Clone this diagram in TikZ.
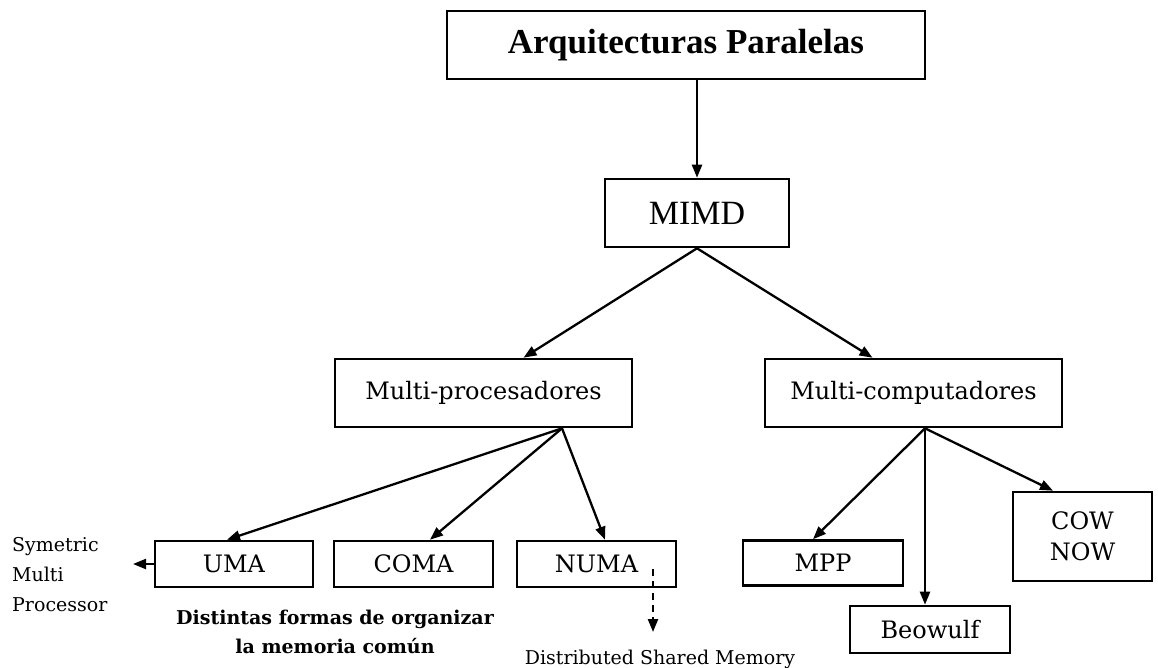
\documentclass[tikz,border=0pt]{standalone}
\usepackage{fontspec}
\setmainfont{DejaVu Serif}
\newfontfamily\timesfont{Liberation Serif}
\usetikzlibrary{arrows.meta,calc}

\begin{document}
\begin{tikzpicture}[x=1pt,y=-1pt,
  box/.style={draw, line width=2.6pt, inner sep=0pt, align=center,
    font=\fontsize{24}{31}\selectfont},
  arr/.style={line width=2.3pt, -{Triangle[length=13pt,width=10pt]}},
  note/.style={inner sep=0pt, font=\fontsize{19}{30}\selectfont},
]
\useasboundingbox (0,0) rectangle (1158,667);
\fill[white] (0,0) rectangle (1158,667);

% hierarchy boxes
\node[box, minimum width=478pt, minimum height=68pt,
  font={\timesfont\bfseries\fontsize{35}{40}\selectfont}] (arq) at (686,45) {Arquitecturas Paralelas};
\node[box, minimum width=184pt, minimum height=68pt,
  font={\timesfont\fontsize{34}{40}\selectfont}] (mimd) at (697,213) {MIMD};
\node[box, minimum width=297pt, minimum height=68pt] (mproc) at (483.5,393) {Multi-procesadores};
\node[box, minimum width=297pt, minimum height=68pt] (mcomp) at (913.5,393) {Multi-computadores};

\node[box, minimum width=158pt, minimum height=46pt] (uma)  at (234,564)   {UMA};
\node[box, minimum width=159pt, minimum height=46pt] (coma) at (413.5,564) {COMA};
\node[box, minimum width=159pt, minimum height=46pt] (numa) at (596.5,564) {NUMA};
\node[box, minimum width=160pt, minimum height=45pt] (mpp)  at (823,563)   {MPP};
\node[box, minimum width=160pt, minimum height=47pt] (beo)  at (930,629.5) {Beowulf};
\node[box, minimum width=139pt, minimum height=89pt] (cow)  at (1082.5,536.5) {COW\\NOW};

% connectors
\draw[arr] (mimd.north |- arq.south) -- (mimd.north);
\draw[arr] (mimd.south) -- ($(mproc.north)+(40,0)$);
\draw[arr] (mimd.south) -- ($(mcomp.north)+(-41,0)$);

\coordinate (pfork) at ($(mproc.south)+(78.5,0)$);
\draw[arr] (pfork) -- ($(uma.north)+(-7,0)$);
\draw[arr] (pfork) -- ($(coma.north)+(16.5,0)$);
\draw[arr] (pfork) -- ($(numa.north)+(8.5,0)$);

\coordinate (cfork) at ($(mcomp.south)+(11.5,0)$);
\draw[arr] (cfork) -- ($(mpp.north)+(-10,0)$);
\draw[arr] (cfork) -- (cfork |- beo.north);
\draw[arr] (cfork) -- ($(cow.north)+(-29.5,0)$);

\coordinate (smp) at (133,564);
\draw[arr] (uma.west) -- (smp);

\coordinate (dsmtop) at (653,569);
\coordinate (dsmtip) at (653,632);
\draw[arr, dash pattern=on 7pt off 5pt] (dsmtop) -- (dsmtip);

% side notes
\node[note, align=left, anchor=west] (smptext) at (12,575) {Symetric\\Multi\\Processor};
\node[note, align=center, font={\bfseries\fontsize{19}{29}\selectfont}] (orgtext) at (335,632)
  {Distintas formas de organizar\\la memoria común};
\node[note, anchor=base] (dsm) at (660,664) {Distributed Shared Memory};
\end{tikzpicture}
\end{document}
